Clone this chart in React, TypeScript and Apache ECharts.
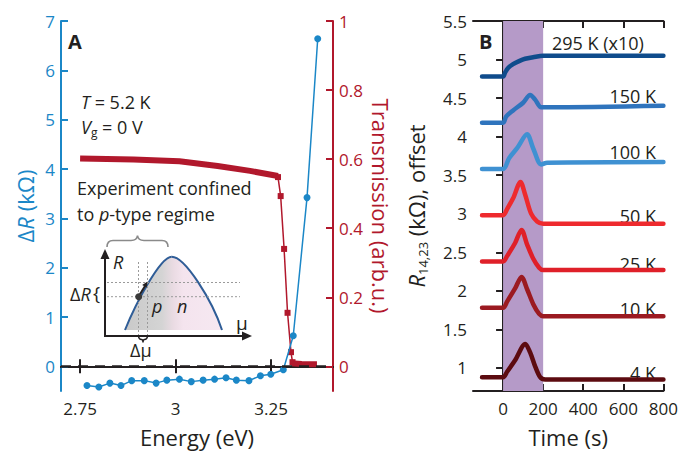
import React, { useEffect, useRef } from 'react';
import * as echarts from 'echarts';

const FONT = "'Open Sans', sans-serif";
const BLUE = '#1b87c7';
const RED = '#b1182c';
const INK = '#231f20';

// ---------- Panel A data ----------
const energyR = [2.768, 2.799, 2.828, 2.857, 2.885, 2.918, 2.949, 2.977, 3.01, 3.041, 3.072, 3.102, 3.132, 3.159, 3.192, 3.222, 3.249, 3.282, 3.308, 3.344, 3.372];
const deltaR = [-0.39, -0.42, -0.34, -0.39, -0.29, -0.29, -0.34, -0.28, -0.26, -0.31, -0.28, -0.26, -0.23, -0.28, -0.29, -0.19, -0.16, -0.07, 0.62, 3.42, 6.64];

const energyTPlateau = [2.75, 2.89, 3.01, 3.11, 3.195, 3.268];
const transPlateau = [0.602, 0.599, 0.594, 0.58, 0.566, 0.551];
const energyTDrop = [3.268, 3.275, 3.284, 3.293, 3.302, 3.306];
const transDrop = [0.548, 0.493, 0.34, 0.155, 0.041, 0.012];
const energyTTail = [3.304, 3.33, 3.35, 3.37];
const transTail = [0.009, 0.007, 0.006, 0.006];

const energyTicks = [2.75, 3, 3.25];
const deltaRTicks = [0, 1, 2, 3, 4, 5, 6, 7];
const transTicks = [0, 0.2, 0.4, 0.6, 0.8, 1];

// ---------- Panel B data ----------
const t295 = [-105, 0, 10, 25, 50, 80, 110, 150, 200, 800];
const r295 = [4.78, 4.78, 4.83, 4.89, 4.94, 4.98, 5.01, 5.03, 5.05, 5.05];
const t150 = [-105, 0, 15, 50, 100, 135, 160, 190, 220, 800];
const r150 = [4.18, 4.18, 4.26, 4.34, 4.44, 4.54, 4.48, 4.38, 4.38, 4.4];
const t100 = [-105, 0, 30, 70, 120, 150, 190, 220, 800];
const r100 = [3.58, 3.58, 3.72, 3.85, 4.03, 3.85, 3.64, 3.66, 3.67];
const t50 = [-105, 0, 20, 50, 87, 110, 140, 170, 200, 800];
const r50 = [2.98, 2.98, 3.06, 3.2, 3.41, 3.25, 3.0, 2.9, 2.87, 2.87];
const t25 = [-105, 0, 20, 60, 92, 120, 150, 180, 200, 800];
const r25 = [2.38, 2.38, 2.45, 2.62, 2.79, 2.6, 2.42, 2.3, 2.27, 2.27];
const t10 = [-105, 0, 20, 60, 92, 120, 150, 180, 200, 800];
const r10 = [1.78, 1.78, 1.86, 2.03, 2.18, 2.02, 1.83, 1.7, 1.67, 1.67];
const t4 = [-105, 0, 20, 60, 111, 135, 160, 185, 210, 800];
const r4 = [0.88, 0.88, 0.95, 1.1, 1.31, 1.2, 1.02, 0.88, 0.85, 0.85];

const illumination = [0, 200];
const timeTicks = [0, 200, 400, 600, 800];
const offsetTicks = [1, 1.5, 2, 2.5, 3, 3.5, 4, 4.5, 5, 5.5];

const zip = (xs: number[], ys: number[]) => xs.map((x, i) => [x, ys[i]]);

const traces = [
  { name: '295 K (x10)', t: t295, r: r295, color: '#0f4c8c' },
  { name: '150 K', t: t150, r: r150, color: '#2f74bd' },
  { name: '100 K', t: t100, r: r100, color: '#3f91d2' },
  { name: '50 K', t: t50, r: r50, color: '#ee2a2e' },
  { name: '25 K', t: t25, r: r25, color: '#df2029' },
  { name: '10 K', t: t10, r: r10, color: '#9b1a21' },
  { name: '4 K', t: t4, r: r4, color: '#5c0b10' },
];
const traceLabelY = [43, 96, 152, 216, 264, 309, 373];

const HUMP = 'M125,330 C135,305 160,256.7 171.7,256.7 C185,256.7 212,300 222,330 Z';
const BRACE = 'M107,247 Q107,240.5 113,240.5 L131,240.5 Q137,240.5 137.5,235.5 Q138,240.5 144,240.5 L162,240.5 Q168,240.5 168,247';
const SMALLBRACE = 'M138.5,336.5 Q139,339.5 141.5,339.5 Q143,339.5 143,342.5 Q143,339.5 144.5,339.5 Q147,339.5 147.5,336.5';

let registered = false;
function registerShapes() {
  if (registered) return;
  registered = true;
  echarts.graphic.registerShape('hump', echarts.graphic.extendPath(HUMP, {}));
  echarts.graphic.registerShape('brace', echarts.graphic.extendPath(BRACE, {}));
  echarts.graphic.registerShape('smallbrace', echarts.graphic.extendPath(SMALLBRACE, {}));
}

function axisCommon(color: string, ticks: number[], showLabel: boolean, labelMargin = 7) {
  return {
    axisLine: { show: true, lineStyle: { color, width: 2 } },
    axisTick: { show: true, inside: true, length: 7, customValues: ticks, lineStyle: { color, width: 2 } },
    axisLabel: {
      show: showLabel,
      customValues: ticks,
      color,
      fontSize: 17,
      fontFamily: FONT,
      margin: labelMargin,
    },
    splitLine: { show: false },
  };
}

export default function App() {
  const ref = useRef<HTMLDivElement>(null);
  useEffect(() => {
    document.body.style.margin = '0';
    registerShapes();
    const chart = echarts.init(ref.current!, null, { renderer: 'svg' });

    const nameStyle = (color: string) => ({ color, fontSize: 22, fontFamily: FONT });

    const option: any = {
      animation: false,
      backgroundColor: '#ffffff',
      grid: [
        { left: 61, top: 21, width: 272, height: 376 },
        { left: 473, top: 21, width: 194, height: 376 },
      ],
      xAxis: [
        {
          gridIndex: 0, type: 'value', min: 2.7, max: 3.412, position: 'bottom',
          ...axisCommon(INK, energyTicks, true, 9),
          name: 'Energy (eV)', nameLocation: 'middle', nameGap: 35, nameTextStyle: nameStyle(INK),
        },
        { gridIndex: 0, type: 'value', min: 2.7, max: 3.412, position: 'top', ...axisCommon(INK, energyTicks, false) },
        {
          gridIndex: 1, type: 'value', min: -150, max: 800, position: 'bottom',
          ...axisCommon(INK, timeTicks, true, 9),
          name: 'Time (s)', nameLocation: 'middle', nameGap: 35, nameTextStyle: nameStyle(INK),
        },
        { gridIndex: 1, type: 'value', min: -150, max: 800, position: 'top', ...axisCommon(INK, timeTicks, false) },
      ],
      yAxis: [
        {
          gridIndex: 0, type: 'value', min: -0.5, max: 7, position: 'left',
          ...axisCommon(BLUE, deltaRTicks, true, 6),
          name: '{d|Δ}{i|R}{d| (kΩ)}', nameLocation: 'middle', nameGap: 25, nameRotate: 90,
          nameTextStyle: {
            ...nameStyle(BLUE),
            rich: {
              d: { color: BLUE, fontSize: 22, fontFamily: FONT },
              i: { color: BLUE, fontSize: 22, fontFamily: FONT, fontStyle: 'italic' },
            },
          },
        },
        {
          gridIndex: 0, type: 'value', min: -1 / 14, max: 1, position: 'right',
          ...axisCommon(RED, transTicks, true, 6),
          name: 'Transmission (arb.u.)', nameLocation: 'middle', nameGap: 37, nameRotate: -90,
          nameTextStyle: nameStyle(RED),
        },
        {
          gridIndex: 1, type: 'value', min: 0.7, max: 5.5, position: 'left',
          ...axisCommon(INK, offsetTicks, true, 6),
          name: '{i|R}{s|14,23}{d| (kΩ), offset}', nameLocation: 'middle', nameGap: 44, nameRotate: 90,
          nameTextStyle: {
            ...nameStyle(INK),
            rich: {
              i: { color: INK, fontSize: 22, fontFamily: FONT, fontStyle: 'italic', lineHeight: 26 },
              s: { color: INK, fontSize: 13, fontFamily: FONT, lineHeight: 14, verticalAlign: 'bottom' },
              d: { color: INK, fontSize: 22, fontFamily: FONT, lineHeight: 26 },
            },
          },
        },
        { gridIndex: 1, type: 'value', min: 0.7, max: 5.5, position: 'right', ...axisCommon(INK, offsetTicks, false) },
      ],
      series: [
        {
          name: 'ΔR', type: 'line', xAxisIndex: 0, yAxisIndex: 0, z: 4,
          data: zip(energyR, deltaR),
          symbol: 'circle', symbolSize: 7,
          itemStyle: { color: BLUE },
          lineStyle: { color: BLUE, width: 1.5 },
          markLine: {
            silent: true, symbol: ['none', 'none'], label: { show: false },
            lineStyle: { color: INK, width: 2.5, type: [10, 7] },
            data: [{ yAxis: 0 }],
          },
        },
        {
          name: 'Transmission plateau', type: 'line', xAxisIndex: 0, yAxisIndex: 1, z: 3,
          data: zip(energyTPlateau, transPlateau), showSymbol: false, symbol: 'none',
          lineStyle: { color: RED, width: 6 },
        },
        {
          name: 'Transmission drop', type: 'line', xAxisIndex: 0, yAxisIndex: 1, z: 3,
          data: zip(energyTDrop, transDrop), symbol: 'rect', symbolSize: 6,
          itemStyle: { color: RED }, lineStyle: { color: RED, width: 1.5 },
        },
        {
          name: 'Transmission tail', type: 'line', xAxisIndex: 0, yAxisIndex: 1, z: 3,
          data: zip(energyTTail, transTail), showSymbol: false, symbol: 'none',
          lineStyle: { color: RED, width: 6 },
        },
        {
          name: 'illumination', type: 'line', xAxisIndex: 2, yAxisIndex: 2, z: 1,
          data: [], silent: true,
          markArea: {
            silent: true,
            itemStyle: { color: '#b59ac8', opacity: 1 },
            data: [[{ xAxis: illumination[0] }, { xAxis: illumination[1] }]],
          },
        },
        ...traces.map((tr) => ({
          name: tr.name, type: 'line', xAxisIndex: 2, yAxisIndex: 2, z: 3,
          data: zip(tr.t, tr.r), showSymbol: false, symbol: 'none',
          smooth: 0.3,
          lineStyle: { color: tr.color, width: 4.5, cap: 'round', join: 'round' },
        })),
      ],
      graphic: [
        { type: 'text', left: 68, top: 31, style: { text: 'A', fontSize: 20, fontWeight: 'bold', fontFamily: FONT, fill: INK } },
        { type: 'text', left: 479, top: 31, style: { text: 'B', fontSize: 20, fontWeight: 'bold', fontFamily: FONT, fill: INK } },
        {
          type: 'text', x: 81, y: 102,
          style: {
            text: '{i|T}{d| = 5.2 K}', verticalAlign: 'middle',
            rich: { i: { fontSize: 18, fontFamily: FONT, fontStyle: 'italic', fill: INK }, d: { fontSize: 18, fontFamily: FONT, fill: INK } },
          },
        },
        {
          type: 'text', x: 81, y: 127,
          style: {
            text: '{i|V}{s|g}{d| = 0 V}', verticalAlign: 'middle',
            rich: {
              i: { fontSize: 18, fontFamily: FONT, fontStyle: 'italic', fill: INK, lineHeight: 22 },
              s: { fontSize: 12, fontFamily: FONT, fill: INK, lineHeight: 12, verticalAlign: 'bottom' },
              d: { fontSize: 18, fontFamily: FONT, fill: INK, lineHeight: 22 },
            },
          },
        },
        { type: 'text', x: 77, y: 188, style: { text: 'Experiment confined', fontSize: 18, fontFamily: FONT, fill: INK, verticalAlign: 'middle' } },
        {
          type: 'text', x: 77, y: 214,
          style: {
            text: '{d|to }{i|p}{d|-type regime}', verticalAlign: 'middle',
            rich: { i: { fontSize: 18, fontFamily: FONT, fontStyle: 'italic', fill: INK }, d: { fontSize: 18, fontFamily: FONT, fill: INK } },
          },
        },
        // inset schematic
        { type: 'brace', x: 0, y: 0, silent: true, style: { fill: null, stroke: '#8a8a8a', lineWidth: 1.6 } },
        {
          type: 'hump', x: 0, y: 0, silent: true,
          style: {
            fill: new echarts.graphic.LinearGradient(0, 0, 1, 0, [
              { offset: 0, color: '#c9c9c9' },
              { offset: 0.38, color: '#d4d4d4' },
              { offset: 0.5, color: '#eadbe3' },
              { offset: 0.6, color: '#f4e4ee' },
              { offset: 1, color: '#f6e8f1' },
            ]),
            stroke: null,
          },
        },
        {
          type: 'bezierCurve', silent: true,
          shape: { x1: 125, y1: 330, cpx1: 135, cpy1: 305, cpx2: 160, cpy2: 256.7, x2: 171.7, y2: 256.7 },
          style: { stroke: '#2f5d97', lineWidth: 2, fill: null },
        },
        {
          type: 'bezierCurve', silent: true,
          shape: { x1: 171.7, y1: 256.7, cpx1: 185, cpy1: 256.7, cpx2: 212, cpy2: 300, x2: 222, y2: 330 },
          style: { stroke: '#2f5d97', lineWidth: 2, fill: null },
        },
        { type: 'line', silent: true, shape: { x1: 107, y1: 282.5, x2: 240, y2: 282.5 }, style: { stroke: '#9a9a9a', lineWidth: 1, lineDash: [2, 2] } },
        { type: 'line', silent: true, shape: { x1: 107, y1: 296.7, x2: 240, y2: 296.7 }, style: { stroke: '#9a9a9a', lineWidth: 1, lineDash: [2, 2] } },
        { type: 'line', silent: true, shape: { x1: 138.5, y1: 262, x2: 138.5, y2: 336 }, style: { stroke: '#9a9a9a', lineWidth: 1, lineDash: [2, 2] } },
        { type: 'line', silent: true, shape: { x1: 147.5, y1: 262, x2: 147.5, y2: 336 }, style: { stroke: '#9a9a9a', lineWidth: 1, lineDash: [2, 2] } },
        { type: 'line', silent: true, shape: { x1: 105, y1: 336, x2: 105, y2: 257 }, style: { stroke: INK, lineWidth: 2 } },
        { type: 'polygon', silent: true, shape: { points: [[105, 249], [100.5, 259], [109.5, 259]] }, style: { fill: INK } },
        { type: 'line', silent: true, shape: { x1: 104, y1: 336, x2: 244, y2: 336 }, style: { stroke: INK, lineWidth: 2 } },
        { type: 'polygon', silent: true, shape: { points: [[252, 336], [242, 331.5], [242, 340.5]] }, style: { fill: INK } },
        { type: 'line', silent: true, shape: { x1: 139.5, y1: 295, x2: 145, y2: 286 }, style: { stroke: INK, lineWidth: 2 } },
        { type: 'polygon', silent: true, shape: { points: [[147.5, 281.5], [146.6, 287.6], [142.2, 284.9]] }, style: { fill: INK } },
        { type: 'circle', silent: true, shape: { cx: 138.7, cy: 296.7, r: 3.5 }, style: { fill: '#3a3a3a' } },
        { type: 'smallbrace', x: 0, y: 0, silent: true, style: { fill: null, stroke: INK, lineWidth: 1.5 } },
        {
          type: 'text', x: 113, y: 262,
          style: { text: 'R', fontSize: 18, fontStyle: 'italic', fontFamily: FONT, fill: INK, verticalAlign: 'middle' },
        },
        { type: 'text', x: 236, y: 323, style: { text: 'μ', fontSize: 19, fontFamily: FONT, fill: INK, verticalAlign: 'middle' } },
        {
          type: 'text', x: 152, y: 306,
          style: { text: 'p', fontSize: 18, fontStyle: 'italic', fontFamily: FONT, fill: INK, verticalAlign: 'middle' },
        },
        {
          type: 'text', x: 177, y: 306,
          style: { text: 'n', fontSize: 18, fontStyle: 'italic', fontFamily: FONT, fill: INK, verticalAlign: 'middle' },
        },
        {
          type: 'text', x: 70, y: 294,
          style: {
            text: '{d|Δ}{i|R}', verticalAlign: 'middle',
            rich: { d: { fontSize: 18, fontFamily: FONT, fill: INK }, i: { fontSize: 18, fontFamily: FONT, fontStyle: 'italic', fill: INK } },
          },
        },
        { type: 'text', x: 93, y: 293, style: { text: '{', fontSize: 19, fontFamily: FONT, fill: INK, verticalAlign: 'middle' } },
        { type: 'text', x: 130, y: 350, style: { text: 'Δμ', fontSize: 18, fontFamily: FONT, fill: INK, verticalAlign: 'middle' } },
        // panel B labels
        ...traces.map((tr, i) => (i === 0
          ? { type: 'text', x: 552, y: traceLabelY[i], style: { text: tr.name, fontSize: 18, fontFamily: FONT, fill: INK, verticalAlign: 'middle', align: 'left' } }
          : { type: 'text', x: 656, y: traceLabelY[i], style: { text: tr.name, fontSize: 18, fontFamily: FONT, fill: INK, verticalAlign: 'middle', align: 'right' } })),
      ],
    };
    chart.setOption(option);
    return () => chart.dispose();
  }, []);
  return <div ref={ref} style={{ width: 681, height: 453 }} />;
}
